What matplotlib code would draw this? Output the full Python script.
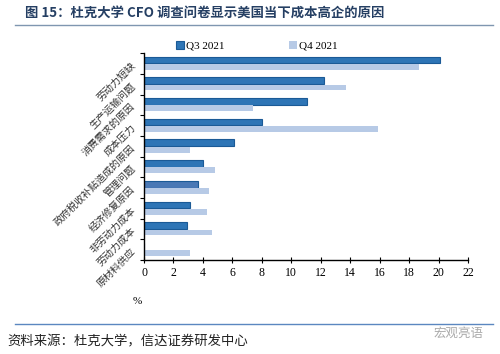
import matplotlib.pyplot as plt
import numpy as np

plt.rcParams['font.family'] = ['Noto Sans CJK SC', 'DejaVu Sans']

# 数据
categories = ['劳动力短缺', '生产运输问题', '消费需求的原因', '成本压力', '政府税收补贴造成的原因',
              '管理问题', '经济修复原因', '非劳动力成本', '劳动力成本', '原材料供应']
q3 = [20.1, 12.2, 11.1, 8.0, 6.1, 4.0, 3.7, 3.1, 2.9, 0]
q4 = [18.7, 13.7, 7.4, 15.9, 3.1, 4.8, 4.4, 4.3, 4.6, 3.1]
xticks = list(range(0, 23, 2))

fig = plt.figure(figsize=(5, 3.54), dpi=100)
ax = fig.add_axes([0.288, 0.265, 0.648, 0.585])

y = np.arange(len(categories))
q3_colors = ['#2E75B6'] * len(categories)
q3_colors[6] = '#4A78B5'
b1 = ax.barh(y + 0.33, q3, height=0.32, color=q3_colors, edgecolor='#1B5A96', linewidth=0.8, label='Q3 2021')
b2 = ax.barh(y + 0.66, q4, height=0.28, color='#B7CAE6', linewidth=0, label='Q4 2021')

ax.set_ylim(len(categories), 0)
ax.set_xlim(0, 22)
ax.set_yticks(np.arange(len(categories) + 1))
ax.set_yticklabels([])
ax.set_xticks(xticks)
ax.set_xticklabels([str(t) for t in xticks], family='Liberation Serif', fontsize=8.5)
ax.tick_params(axis='y', direction='out', length=3, width=0.8)
ax.tick_params(axis='x', direction='inout', length=4, width=0.8, pad=3)
for s in ['top', 'right']:
    ax.spines[s].set_visible(False)
for s in ['left', 'bottom']:
    ax.spines[s].set_linewidth(1.0)
    ax.spines[s].set_color('black')

# 斜着的类别标签
for i, c in enumerate(categories):
    ax.text(-0.7, i + 0.5, c, rotation=45, rotation_mode='anchor', ha='right', va='center',
            fontsize=7.2, color='#333333', transform=ax.transData)

ax.legend(loc='lower left', bbox_to_anchor=(0.085, 0.99), ncol=2, frameon=False,
          prop={'family': 'Liberation Serif', 'size': 8}, handlelength=0.7, handleheight=0.7,
          handletextpad=0.2, columnspacing=5.8, borderaxespad=0)

# 标题、分隔线、来源
fig.text(0.05, 0.963, '图 15：杜克大学 CFO 调查问卷显示美国当下成本高企的原因', fontsize=9.6, fontweight='bold',
         color='#253F63', va='center')
fig.add_artist(plt.Line2D([0.03, 0.985], [0.928, 0.928], color='#7F96B0', linewidth=1))
fig.text(0.274, 0.148, '%', family='Liberation Serif', fontsize=8, va='center', ha='center')
fig.add_artist(plt.Line2D([0.03, 0.985], [0.084, 0.084], color='#5B87C0', linewidth=1))
fig.text(0.015, 0.036, '资料来源：杜克大学，信达证券研发中心', fontsize=9.6, va='center', color='#222222')
fig.text(0.868, 0.058, '宏观亮语', fontsize=9, va='center', color='#AAAAAA')

plt.savefig('out.png', dpi=100)
